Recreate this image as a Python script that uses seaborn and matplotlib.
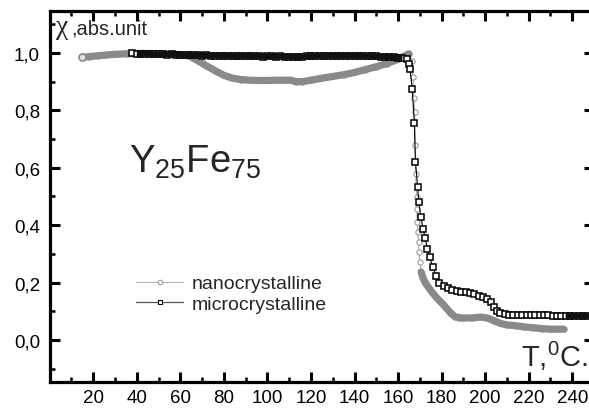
import numpy as np
import pandas as pd
import matplotlib
matplotlib.use("Agg")
import matplotlib.pyplot as plt
from matplotlib.lines import Line2D
from matplotlib.ticker import MultipleLocator, FixedLocator, FixedFormatter
import seaborn as sns

# ---- data: susceptibility vs temperature ----
nano_T = [15, 18, 22, 26, 30, 35, 40, 45, 50, 55, 60, 64, 68, 72, 76, 80, 84, 88,
          92, 96, 100, 104, 108, 111, 113, 116, 120, 125, 130, 135, 140, 145, 150,
          155, 160, 163, 165,
          166.2, 166.9, 167.2, 167.6, 167.8, 168.1, 168.5, 168.7, 168.8, 169.1,
          169.4, 169.6, 169.9, 170.6,
          171.5, 172.5, 174, 176, 178, 180, 182, 184, 186, 188, 190, 194, 198, 201,
          204, 207, 210, 214, 218, 222, 226, 230, 236]
nano_chi = [0.985, 0.987, 0.990, 0.993, 0.995, 0.997, 0.998, 0.998, 0.997, 0.996,
            0.994, 0.990, 0.973, 0.955, 0.938, 0.922, 0.912, 0.907, 0.905, 0.904,
            0.904, 0.905, 0.905, 0.905, 0.900, 0.900, 0.905, 0.912, 0.918, 0.924,
            0.932, 0.942, 0.952, 0.963, 0.978, 0.990, 0.997,
            0.972, 0.916, 0.843, 0.794, 0.679, 0.578, 0.498, 0.456, 0.411, 0.376,
            0.341, 0.307, 0.272, 0.237,
            0.215, 0.200, 0.183, 0.163, 0.145, 0.130, 0.113, 0.096, 0.082, 0.078,
            0.077, 0.077, 0.080, 0.077, 0.068, 0.058, 0.053, 0.050, 0.046, 0.043,
            0.040, 0.038, 0.038]

micro_T = [38, 40, 42, 44, 46, 48, 50, 52, 54, 56, 58, 60, 62, 64, 66, 68, 70, 72,
           74, 76, 78, 80, 82, 84, 86, 88, 90, 92, 94, 96, 98, 100, 102, 104, 106,
           108, 110, 112, 114, 116, 118, 120, 122, 124, 126, 128, 130, 132, 134,
           136, 138, 140, 142, 144, 146, 148, 150, 152, 154, 156, 158, 160, 162,
           164, 165, 165.5, 166.5, 167.5, 168, 169, 169.5, 170.5, 171.5, 172.5,
           173.5, 174.5, 176, 177.5, 179, 181, 183, 185, 187, 189, 191, 193, 195,
           197, 199, 201, 202.5, 204, 205.5, 207, 209, 211, 213, 215, 217, 219,
           221, 223, 225, 227, 229, 231, 233, 235, 237, 239, 241, 243, 245, 247, 249]
micro_chi = [0.998, 0.997, 0.996, 0.997, 0.996, 0.995, 0.996, 0.995, 0.994, 0.995,
             0.993, 0.994, 0.992, 0.993, 0.992, 0.993, 0.991, 0.992, 0.990, 0.991,
             0.990, 0.991, 0.989, 0.990, 0.988, 0.990, 0.989, 0.990, 0.988, 0.989,
             0.987, 0.989, 0.988, 0.987, 0.988, 0.986, 0.987, 0.986, 0.986, 0.987,
             0.988, 0.989, 0.988, 0.990, 0.989, 0.990, 0.990, 0.989, 0.990, 0.991,
             0.990, 0.990, 0.989, 0.990, 0.988, 0.989, 0.988, 0.987, 0.986, 0.986,
             0.985, 0.984, 0.983, 0.978, 0.960, 0.944, 0.875, 0.756, 0.620, 0.533,
             0.480, 0.430, 0.387, 0.355, 0.317, 0.289, 0.254, 0.223, 0.200, 0.190,
             0.181, 0.176, 0.172, 0.168, 0.166, 0.163, 0.160, 0.155, 0.150, 0.143,
             0.133, 0.115, 0.100, 0.093, 0.090, 0.089, 0.088, 0.088, 0.087, 0.087,
             0.087, 0.086, 0.086, 0.086, 0.086, 0.085, 0.085, 0.085, 0.085, 0.084,
             0.084, 0.084, 0.084, 0.084, 0.084]

series_names = ["nanocrystalline", "microcrystalline"]
x_ticks = [20, 40, 60, 80, 100, 120, 140, 160, 180, 200, 220, 240]
y_ticks = [0.0, 0.2, 0.4, 0.6, 0.8, 1.0]
y_tick_labels = ["0,0", "0,2", "0,4", "0,6", "0,8", "1,0"]

nano = pd.DataFrame({"T": nano_T, "chi": nano_chi})
micro = pd.DataFrame({"T": micro_T, "chi": micro_chi})

sns.set_style("ticks")
plt.rcParams["font.family"] = ["Liberation Sans", "DejaVu Sans"]
plt.rcParams["mathtext.fontset"] = "custom"
plt.rcParams["mathtext.rm"] = "Liberation Sans"

fig = plt.figure(figsize=(5.89, 4.10), dpi=100)
ax = fig.add_axes([49.7 / 589, 27 / 410, 544.3 / 589, 371 / 410])

# nanocrystalline: thin line with open circles, dense parts drawn as a thick band
sns.lineplot(data=nano, x="T", y="chi", sort=False, ax=ax, color="#a8a8a8",
             lw=0.8, marker="o", markersize=3.8, markerfacecolor="white",
             markeredgecolor="#9a9a9a", markeredgewidth=0.8, legend=False)
low = nano[nano["T"] <= 165.2]
tail = nano[nano["T"] >= 170.5]
for part in (low, tail):
    sns.lineplot(data=part, x="T", y="chi", sort=False, ax=ax, color="#8a8a8a",
                 lw=5.2, legend=False, solid_capstyle="round")
ax.plot(nano_T[0], nano_chi[0], "o", ms=5, mfc="#e6e6e6", mec="#8a8a8a", mew=1.2)

# microcrystalline: thin black line with open squares; densely sampled
# stretches merge into a solid black band
sns.lineplot(data=micro, x="T", y="chi", sort=False, ax=ax, color="black",
             lw=0.8, marker="s", markersize=4.2, markerfacecolor="white",
             markeredgecolor="black", markeredgewidth=1.1, legend=False)
micro_flat = micro[(micro["T"] >= 40) & (micro["T"] <= 163)]
micro_end = micro[micro["T"] >= 236]
for part in (micro_flat, micro_end):
    sns.lineplot(data=part, x="T", y="chi", sort=False, ax=ax, color="#111111",
                 lw=4.0, legend=False, solid_capstyle="butt")

ax.set_xlim(0, 250)
ax.set_ylim(-0.146, 1.146)
ax.set_xlabel("")
ax.set_ylabel("")

ax.xaxis.set_major_locator(FixedLocator(x_ticks))
ax.xaxis.set_minor_locator(MultipleLocator(10))
ax.yaxis.set_major_locator(FixedLocator(y_ticks))
ax.yaxis.set_major_formatter(FixedFormatter(y_tick_labels))
ax.yaxis.set_minor_locator(MultipleLocator(0.1))

for s in ax.spines.values():
    s.set_visible(True)
    s.set_linewidth(2.3)
    s.set_color("black")
ax.tick_params(which="both", direction="in", top=True, right=True, colors="black")
ax.tick_params(which="major", length=7, width=2.2, labelsize=13.5)
ax.tick_params(which="minor", length=3.5, width=1.8)
ax.tick_params(axis="x", which="major", pad=5)
ax.tick_params(axis="y", which="major", pad=7)

# annotations
ax.text(3.0, 1.068, "χ", fontsize=20, family=["Liberation Serif", "DejaVu Serif"],
        va="baseline")
ax.text(10.0, 1.068, ",abs.unit", fontsize=14.5, va="baseline")
ax.text(36.5, 0.585, r"$\mathregular{Y_{25}Fe_{75}}$", fontsize=27.5, va="baseline")
ax.text(216.5, -0.09, r"T,$\mathregular{^{0}}$C.", fontsize=21, va="baseline",
        clip_on=False)

handles = [
    Line2D([], [], color="#b8b8b8", lw=0.9, marker="o", ms=3.2, mfc="white",
           mec="#9a9a9a", mew=0.8),
    Line2D([], [], color="#555555", lw=0.9, marker="s", ms=3.2, mfc="white",
           mec="black", mew=0.8),
]
ax.legend(handles, series_names, loc="upper left", bbox_to_anchor=(0.145, 0.31),
          frameon=False, fontsize=14, handlelength=2.4, handletextpad=0.45,
          labelspacing=0.15, borderaxespad=0)

fig.savefig("out.png", dpi=100)
